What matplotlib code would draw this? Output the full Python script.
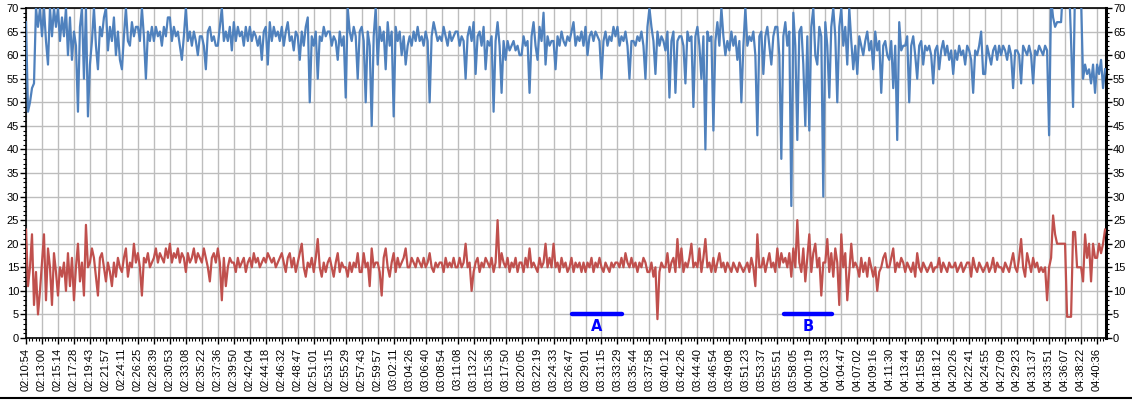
import numpy as np
import matplotlib
matplotlib.use('Agg')
import matplotlib.pyplot as plt
from matplotlib.ticker import MultipleLocator
from matplotlib.lines import Line2D

# Time stamps shown under the axis (one every 8 samples)
time_labels = [
    '02:10:54', '02:13:00', '02:15:14', '02:17:28', '02:19:43', '02:21:57', '02:24:11', '02:26:25',
    '02:28:39', '02:30:53', '02:33:08', '02:35:22', '02:37:36', '02:39:50', '02:42:04', '02:44:18',
    '02:46:32', '02:48:47', '02:51:01', '02:53:15', '02:55:29', '02:57:43', '02:59:57', '03:02:11',
    '03:04:26', '03:06:40', '03:08:54', '03:11:08', '03:13:22', '03:15:36', '03:17:50', '03:20:05',
    '03:22:19', '03:24:33', '03:26:47', '03:29:01', '03:31:15', '03:33:29', '03:35:44', '03:37:58',
    '03:40:12', '03:42:26', '03:44:40', '03:46:54', '03:49:08', '03:51:23', '03:53:37', '03:55:51',
    '03:58:05', '04:00:19', '04:02:33', '04:04:47', '04:07:02', '04:09:16', '04:11:30', '04:13:44',
    '04:15:58', '04:18:12', '04:20:26', '04:22:41', '04:24:55', '04:27:09', '04:29:23', '04:31:37',
    '04:33:51', '04:36:07', '04:38:22', '04:40:36',
]
samples_per_label = 8

# Upper (blue) series, one row per label interval
blue_vals = [
    67, 48, 50, 53, 54, 70, 66, 70,
    64, 70, 63, 58, 70, 64, 70, 66,
    70, 63, 68, 64, 70, 60, 68, 59,
    65, 62, 48, 66, 70, 55, 70, 47,
    58, 63, 70, 62, 57, 66, 64, 68,
    70, 61, 66, 63, 68, 60, 65, 59,
    57, 64, 70, 63, 62, 67, 64, 66,
    66, 63, 70, 64, 55, 65, 63, 66,
    63, 66, 64, 65, 62, 66, 64, 68,
    68, 63, 66, 64, 65, 62, 59, 64,
    70, 63, 65, 62, 65, 63, 60, 64,
    64, 62, 57, 65, 66, 63, 64, 62,
    62, 66, 70, 63, 65, 63, 66, 61,
    67, 63, 66, 64, 65, 62, 66, 63,
    66, 63, 65, 64, 62, 64, 59, 65,
    66, 58, 67, 63, 66, 64, 65, 63,
    66, 62, 65, 67, 63, 64, 61, 65,
    64, 59, 65, 62, 66, 68, 50, 64,
    62, 65, 55, 64, 63, 66, 64, 65,
    65, 62, 64, 63, 59, 65, 62, 64,
    51, 70, 65, 63, 66, 64, 55, 65,
    66, 63, 50, 65, 62, 45, 64, 70,
    58, 66, 63, 65, 57, 67, 62, 65,
    47, 66, 63, 65, 60, 64, 58, 62,
    64, 62, 65, 63, 66, 63, 64, 62,
    65, 63, 50, 64, 67, 65, 63, 64,
    63, 66, 64, 62, 65, 63, 64, 65,
    65, 62, 64, 63, 55, 64, 66, 63,
    67, 56, 64, 65, 62, 66, 57, 63,
    62, 64, 48, 63, 67, 62, 52, 63,
    59, 63, 61, 62, 63, 61, 62, 60,
    60, 64, 62, 63, 52, 64, 67, 62,
    59, 66, 63, 69, 58, 64, 62, 63,
    63, 57, 64, 62, 65, 63, 62, 64,
    63, 65, 67, 62, 64, 63, 65, 62,
    66, 60, 64, 65, 63, 65, 64, 63,
    55, 63, 65, 62, 64, 63, 66, 64,
    66, 62, 64, 63, 65, 62, 55, 63,
    63, 62, 64, 63, 65, 62, 55, 66,
    70, 66, 63, 56, 65, 62, 64, 63,
    61, 65, 51, 63, 65, 52, 63, 64,
    64, 62, 54, 65, 63, 64, 49, 64,
    66, 62, 55, 64, 40, 65, 63, 64,
    44, 63, 67, 62, 70, 64, 60, 63,
    61, 65, 62, 64, 59, 63, 50, 62,
    70, 62, 64, 63, 65, 60, 43, 64,
    65, 56, 64, 66, 62, 58, 64, 66,
    66, 60, 38, 64, 67, 62, 65, 28,
    69, 62, 42, 65, 66, 58, 45, 64,
    44, 66, 70, 60, 58, 66, 64, 30,
    67, 62, 51, 66, 70, 64, 50, 66,
    70, 62, 66, 58, 70, 63, 57, 62,
    56, 64, 62, 60, 63, 65, 61, 63,
    57, 65, 61, 63, 52, 62, 63, 60,
    59, 63, 53, 62, 42, 67, 61, 62,
    62, 64, 50, 62, 64, 60, 55, 62,
    63, 58, 62, 61, 62, 60, 54, 61,
    62, 57, 61, 63, 60, 62, 59, 61,
    56, 61, 59, 62, 60, 61, 58, 62,
    61, 59, 52, 61, 60, 62, 65, 56,
    56, 62, 60, 58, 61, 62, 59, 62,
    60, 62, 61, 59, 62, 60, 53, 61,
    61, 60, 54, 62, 61, 60, 62, 60,
    54, 61, 60, 62, 61, 60, 62, 61,
    43, 72, 68, 66, 67, 67, 67, 75,
    75, 75, 75, 63, 49, 75, 75, 75,
    72, 55, 58, 56, 57, 54, 58, 52,
    58, 56, 59, 53, 57,
]

# Lower (red) series, one row per label interval
red_vals = [
    23, 11, 15, 22, 7, 14, 5, 10,
    16, 22, 8, 19, 15, 7, 18, 14,
    9, 15, 13, 16, 10, 18, 11, 17,
    8, 15, 20, 12, 16, 9, 24, 15,
    16, 19, 17, 13, 9, 17, 18, 15,
    12, 16, 14, 11, 16, 13, 17, 15,
    14, 17, 19, 13, 16, 15, 20, 16,
    18, 15, 9, 17, 16, 18, 15, 16,
    17, 19, 16, 18, 17, 16, 19, 17,
    20, 16, 18, 17, 19, 16, 18, 17,
    14, 18, 16, 17, 19, 16, 18, 17,
    16, 19, 17, 15, 12, 17, 18, 16,
    19, 16, 8, 17, 11, 15, 17, 16,
    16, 14, 17, 15, 16, 17, 14, 16,
    17, 15, 18, 16, 17, 15, 16, 17,
    16, 18, 17, 16, 17, 15, 16, 17,
    18, 16, 14, 17, 18, 15, 17, 14,
    16, 18, 20, 15, 13, 16, 15, 17,
    14, 17, 21, 15, 13, 16, 14, 16,
    17, 15, 13, 16, 18, 14, 16, 15,
    15, 13, 16, 14, 16, 15, 18, 14,
    14, 18, 15, 16, 11, 19, 15, 16,
    16, 14, 9, 17, 19, 15, 13, 16,
    18, 14, 17, 15, 16, 17, 19, 15,
    15, 17, 16, 15, 17, 16, 15, 17,
    15, 16, 18, 15, 14, 16, 15, 16,
    16, 14, 17, 15, 16, 15, 17, 15,
    15, 17, 15, 16, 20, 15, 16, 10,
    14, 16, 17, 14, 16, 15, 17, 16,
    15, 17, 14, 16, 25, 15, 18, 16,
    15, 17, 14, 16, 15, 17, 14, 16,
    16, 14, 17, 15, 19, 15, 16, 15,
    14, 17, 15, 16, 20, 15, 17, 15,
    20, 15, 16, 14, 17, 15, 16, 14,
    15, 17, 14, 16, 15, 16, 14, 16,
    14, 16, 15, 17, 14, 16, 15, 17,
    15, 14, 16, 15, 14, 16, 15, 16,
    16, 15, 17, 15, 18, 16, 15, 17,
    15, 16, 14, 16, 15, 17, 16, 14,
    14, 16, 13, 15, 4, 14, 16, 15,
    15, 18, 14, 16, 17, 14, 21, 15,
    19, 14, 16, 15, 17, 20, 15, 16,
    15, 19, 14, 17, 21, 15, 16, 14,
    17, 14, 16, 18, 15, 16, 14, 16,
    15, 14, 16, 15, 14, 16, 15, 14,
    15, 16, 14, 17, 15, 11, 22, 15,
    15, 17, 14, 16, 18, 15, 16, 14,
    19, 15, 18, 16, 17, 15, 18, 13,
    19, 15, 25, 16, 14, 19, 12, 17,
    22, 14, 18, 20, 15, 17, 9, 16,
    16, 21, 14, 18, 13, 19, 16, 7,
    22, 15, 18, 8, 14, 20, 15, 16,
    15, 13, 17, 14, 16, 13, 17, 15,
    13, 15, 10, 14, 15, 17, 18, 15,
    15, 17, 19, 14, 16, 15, 17, 16,
    14, 16, 15, 14, 16, 13, 18, 15,
    14, 16, 15, 14, 15, 16, 14, 15,
    15, 17, 14, 16, 15, 14, 16, 15,
    15, 16, 14, 15, 16, 14, 15, 16,
    16, 13, 17, 15, 14, 16, 15, 14,
    15, 16, 14, 15, 17, 14, 16, 15,
    15, 14, 16, 15, 14, 16, 18, 15,
    14, 17, 21, 15, 13, 18, 16, 14,
    17, 15, 16, 14, 15, 14, 15, 8,
    15, 17, 26, 22, 20, 20, 20, 20,
    20, 4.5, 4.5, 4.5, 22.5, 22.5, 15, 15,
    15, 12, 22, 17, 20, 12, 20, 17,
    17, 20, 18, 20, 23,
]

# Marked periods (sample index range) shown as blue bars at y=5
marker_names = ['A', 'B']
marker_start = [273.4, 379.5]
marker_end = [298.2, 403.6]
marker_level = 5

plt.rcParams['font.family'] = ['Liberation Sans', 'DejaVu Sans']

fig = plt.figure(figsize=(11.32, 4.0), dpi=100)
ax = fig.add_axes([26 / 1132, 62 / 400, (1106 - 26) / 1132, 330 / 400])

ax.plot(np.arange(len(red_vals)), red_vals, color='#C0504D', lw=1.6, zorder=3)
ax.plot(np.arange(len(blue_vals)), blue_vals, color='#4F81BD', lw=1.6, zorder=3)

for name, s, e in zip(marker_names, marker_start, marker_end):
    ax.plot([s, e], [marker_level, marker_level], color='#0000FF', lw=3.2,
            solid_capstyle='round', zorder=4)
    ax.text((s + e) / 2, marker_level - 2.6, name, color='#0000FF', fontsize=10.5,
            fontweight='bold', ha='center', va='center', family='DejaVu Sans', zorder=4)

n_labels = len(time_labels)
ax.set_xlim(0, (n_labels - 1 + 0.56) * samples_per_label)
ax.set_ylim(0, 70)
ax.set_xticks(np.arange(n_labels) * samples_per_label)
ax.set_xticklabels(time_labels, rotation=90, fontsize=8)
ax.xaxis.set_minor_locator(MultipleLocator(samples_per_label / 5))
ax.yaxis.set_major_locator(MultipleLocator(5))
ax.yaxis.set_minor_locator(MultipleLocator(1))

ax.grid(True, which='major', color='#bdbdbd', lw=1.0, zorder=0)
ax.set_axisbelow(True)

ax.tick_params(axis='y', which='major', direction='out', length=4, width=1, pad=1,
               labelsize=8, left=True, right=True, labelleft=True, labelright=True)
ax.tick_params(axis='y', which='minor', direction='out', length=2, width=0.8,
               left=True, right=True)
ax.tick_params(axis='x', which='major', direction='out', length=4, width=1, pad=3)
ax.tick_params(axis='x', which='minor', direction='out', length=2, width=0.8)

for side in ['left', 'top', 'bottom']:
    ax.spines[side].set_linewidth(1.2)
ax.spines['right'].set_linewidth(2.2)

# frame line along the bottom edge of the picture
fig.add_artist(Line2D([0, 1], [0.004, 0.004], transform=fig.transFigure, color='black', lw=1.5))

fig.savefig('out.png', dpi=100)
